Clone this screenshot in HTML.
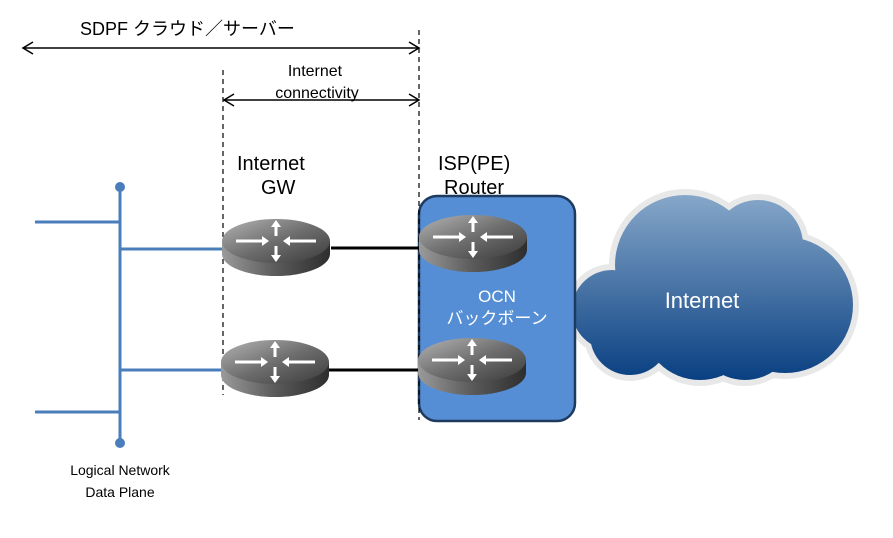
<!DOCTYPE html>
<html><head><meta charset="utf-8"><style>
html,body{margin:0;padding:0;background:#fff;}
svg{display:block;}
text{font-family:"Liberation Sans","Noto Sans CJK JP",sans-serif;}
</style></head><body>
<svg width="893" height="538" viewBox="0 0 893 538" xmlns="http://www.w3.org/2000/svg">
<defs>
<linearGradient id="cg" gradientUnits="userSpaceOnUse" x1="0" y1="195" x2="0" y2="385">
<stop offset="0" stop-color="#86a7c9"/><stop offset="1" stop-color="#063d80"/></linearGradient>
<linearGradient id="rtop" x1="0" y1="0" x2="1" y2="1">
<stop offset="0" stop-color="#b4b4b4"/><stop offset="0.5" stop-color="#6e6e6e"/><stop offset="1" stop-color="#3a3a3a"/></linearGradient>
<linearGradient id="rside" x1="0" y1="0" x2="1" y2="0">
<stop offset="0" stop-color="#9a9a9a"/><stop offset="0.5" stop-color="#5a5a5a"/><stop offset="1" stop-color="#2e2e2e"/></linearGradient>
<g id="router">
<path d="M-54,0 L-54,13 A54,22 0 0 0 54,13 L54,0 Z" fill="url(#rside)"/>
<ellipse cx="0" cy="0" rx="54" ry="22" fill="url(#rtop)"/>
<g stroke="#fff" stroke-width="3" fill="#fff">
<line x1="-40" y1="0" x2="-14" y2="0"/><polygon points="-14,-5 -7,0 -14,5" stroke="none"/>
<line x1="40" y1="0" x2="14" y2="0"/><polygon points="14,-5 7,0 14,5" stroke="none"/>
<line x1="0" y1="-5" x2="0" y2="-16"/><polygon points="-5,-14 0,-21 5,-14" stroke="none"/>
<line x1="0" y1="5" x2="0" y2="16"/><polygon points="-5,14 0,21 5,14" stroke="none"/>
</g>
</g>
<g id="cloud">
<circle cx="685" cy="265" r="70"/><circle cx="612" cy="310" r="40"/>
<circle cx="785" cy="305" r="68"/><circle cx="700" cy="322" r="58"/>
<circle cx="758" cy="245" r="45"/><circle cx="630" cy="335" r="40"/>
<circle cx="745" cy="330" r="50"/>
</g>
</defs>
<use href="#cloud" fill="#fff" stroke="#e8e8e8" stroke-width="12"/>
<use href="#cloud" fill="url(#cg)"/>
<text x="702" y="308" font-size="22" fill="#fff" text-anchor="middle">Internet</text>
<rect x="419" y="196" width="156" height="225" rx="18" fill="#558ed5" stroke="#1f3a5f" stroke-width="2.5"/>
<line x1="223" y1="70" x2="223" y2="395" stroke="#000" stroke-width="1.2" stroke-dasharray="5,4"/>
<line x1="419" y1="30" x2="419" y2="420" stroke="#000" stroke-width="1.2" stroke-dasharray="5,4"/>
<g stroke="#000" stroke-width="1.5" fill="none">
<line x1="23" y1="48" x2="418" y2="48"/><polyline points="33,42 23,48 33,54"/><polyline points="409,42 419,48 409,54"/>
<line x1="224" y1="100" x2="418" y2="100"/><polyline points="234,94 224,100 234,106"/><polyline points="409,94 419,100 409,106"/>
</g>
<text x="80" y="35" font-size="18" fill="#000">SDPF クラウド／サーバー</text>
<text x="315" y="76" font-size="16" fill="#000" text-anchor="middle">Internet</text>
<text x="317" y="98" font-size="16" fill="#000" text-anchor="middle">connectivity</text>
<text x="237" y="170" font-size="20" fill="#000">Internet</text>
<text x="261" y="194" font-size="20" fill="#000">GW</text>
<text x="438" y="170" font-size="20" fill="#000">ISP(PE)</text>
<text x="444" y="194" font-size="20" fill="#000">Router</text>
<g stroke="#4a7ebb" stroke-width="3">
<line x1="120" y1="187" x2="120" y2="443"/>
<line x1="35" y1="222" x2="120" y2="222"/>
<line x1="120" y1="249" x2="222" y2="249"/>
<line x1="120" y1="370" x2="222" y2="370"/>
<line x1="35" y1="412" x2="120" y2="412"/>
</g>
<circle cx="120" cy="187" r="5" fill="#4a7ebb"/>
<circle cx="120" cy="443" r="5" fill="#4a7ebb"/>
<g stroke="#000" stroke-width="3">
<line x1="331" y1="248" x2="419" y2="248"/>
<line x1="329" y1="370" x2="419" y2="370"/>
</g>
<use href="#router" x="276" y="241"/>
<use href="#router" x="275" y="362"/>
<use href="#router" x="473" y="237"/>
<use href="#router" x="472" y="360"/>
<text x="497" y="302" font-size="17" fill="#fff" text-anchor="middle">OCN</text>
<text x="497" y="324" font-size="17" fill="#fff" text-anchor="middle">バックボーン</text>
<text x="120" y="475" font-size="14" fill="#000" text-anchor="middle">Logical Network</text>
<text x="120" y="497" font-size="14" fill="#000" text-anchor="middle">Data Plane</text>
</svg>
</body></html>
